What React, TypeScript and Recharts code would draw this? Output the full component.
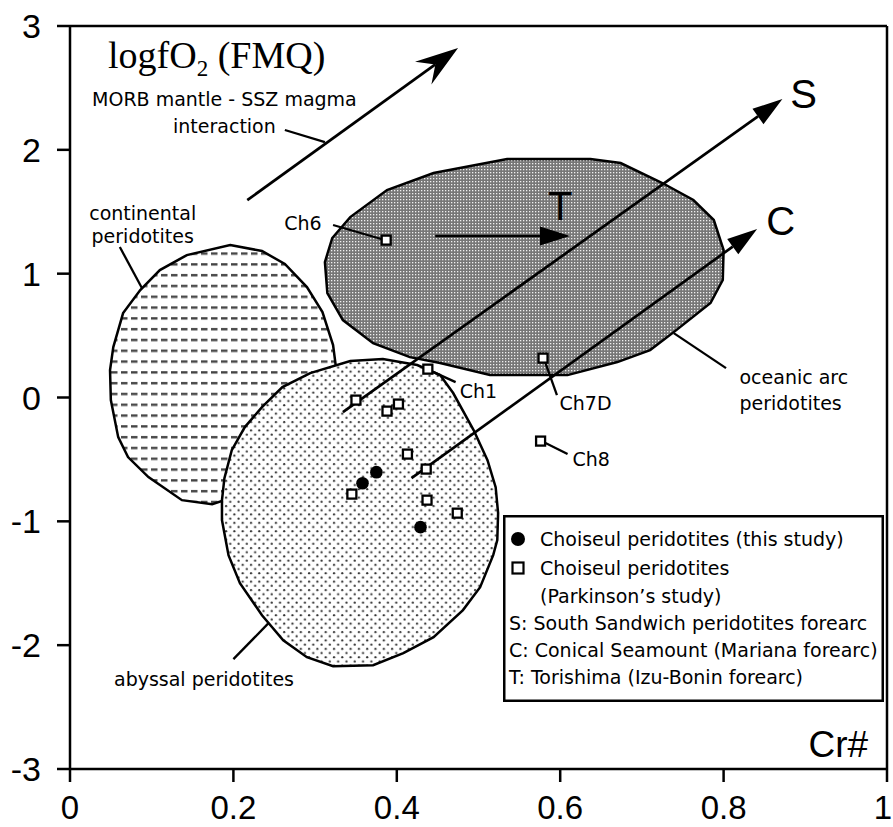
import { ComposedChart, XAxis, YAxis, Line, Scatter, ReferenceLine, ReferenceDot, Legend } from 'recharts';

const xTicks = [0, 0.2, 0.4, 0.6, 0.8, 1];
const yTicks = [-3, -2, -1, 0, 1, 2, 3];

// field outlines, traced point by point (Cr#, logfO2)
const oceanicArc = [
  { x: 0.312, y: 1.094 }, { x: 0.321, y: 1.288 }, { x: 0.343, y: 1.457 }, { x: 0.388, y: 1.675 },
  { x: 0.445, y: 1.813 }, { x: 0.535, y: 1.926 }, { x: 0.637, y: 1.926 }, { x: 0.674, y: 1.893 },
  { x: 0.725, y: 1.732 }, { x: 0.763, y: 1.595 }, { x: 0.788, y: 1.433 }, { x: 0.8, y: 1.191 },
  { x: 0.799, y: 0.949 }, { x: 0.784, y: 0.763 }, { x: 0.739, y: 0.528 }, { x: 0.71, y: 0.383 },
  { x: 0.67, y: 0.286 }, { x: 0.609, y: 0.181 }, { x: 0.514, y: 0.181 }, { x: 0.453, y: 0.278 },
  { x: 0.416, y: 0.326 }, { x: 0.371, y: 0.439 }, { x: 0.334, y: 0.625 }, { x: 0.315, y: 0.843 },
];

const continental = [
  { x: 0.196, y: 1.231 }, { x: 0.235, y: 1.183 }, { x: 0.263, y: 1.078 }, { x: 0.29, y: 0.892 },
  { x: 0.309, y: 0.69 }, { x: 0.322, y: 0.423 }, { x: 0.326, y: 0.221 }, { x: 0.318, y: -0.102 },
  { x: 0.294, y: -0.425 }, { x: 0.245, y: -0.708 }, { x: 0.174, y: -0.861 }, { x: 0.137, y: -0.829 },
  { x: 0.096, y: -0.643 }, { x: 0.071, y: -0.481 }, { x: 0.059, y: -0.32 }, { x: 0.05, y: -0.021 },
  { x: 0.049, y: 0.221 }, { x: 0.053, y: 0.407 }, { x: 0.065, y: 0.682 }, { x: 0.086, y: 0.868 },
  { x: 0.11, y: 1.029 }, { x: 0.143, y: 1.15 },
];

const abyssal = [
  { x: 0.186, y: -0.829 }, { x: 0.189, y: -0.651 }, { x: 0.198, y: -0.425 }, { x: 0.214, y: -0.239 },
  { x: 0.235, y: -0.078 }, { x: 0.26, y: 0.084 }, { x: 0.294, y: 0.197 }, { x: 0.343, y: 0.294 },
  { x: 0.383, y: 0.31 }, { x: 0.425, y: 0.262 }, { x: 0.453, y: 0.181 }, { x: 0.469, y: 0.036 },
  { x: 0.494, y: -0.263 }, { x: 0.511, y: -0.506 }, { x: 0.521, y: -0.724 }, { x: 0.524, y: -0.934 },
  { x: 0.523, y: -1.152 }, { x: 0.518, y: -1.273 }, { x: 0.502, y: -1.532 }, { x: 0.481, y: -1.717 },
  { x: 0.445, y: -1.935 }, { x: 0.408, y: -2.065 }, { x: 0.371, y: -2.162 }, { x: 0.322, y: -2.17 },
  { x: 0.29, y: -2.097 }, { x: 0.261, y: -1.96 }, { x: 0.235, y: -1.758 }, { x: 0.208, y: -1.499 },
  { x: 0.194, y: -1.273 }, { x: 0.186, y: -0.99 },
];

const thisStudy = [
  { x: 0.375, y: -0.603 }, { x: 0.358, y: -0.692 }, { x: 0.429, y: -1.047 },
];

const parkinson = [
  { x: 0.387, y: 1.271 }, { x: 0.438, y: 0.229 }, { x: 0.579, y: 0.318 }, { x: 0.576, y: -0.352 },
  { x: 0.35, y: -0.021 }, { x: 0.388, y: -0.11 }, { x: 0.402, y: -0.053 }, { x: 0.413, y: -0.457 },
  { x: 0.436, y: -0.578 }, { x: 0.345, y: -0.78 }, { x: 0.437, y: -0.829 }, { x: 0.474, y: -0.934 },
];

const morbArrow = { x1: 0.217, y1: 1.594, x2: 0.475, y2: 2.822 };

const trendArrows = [
  { name: 'S', x1: 0.334, y1: -0.118, x2: 0.872, y2: 2.41 },
  { name: 'C', x1: 0.418, y1: -0.651, x2: 0.841, y2: 1.36 },
  { name: 'T', x1: 0.447, y1: 1.304, x2: 0.612, y2: 1.304 },
];

const leaders = [
  { x1: 0.263, y1: 2.16, x2: 0.312, y2: 2.063 },
  { x1: 0.061, y1: 1.215, x2: 0.088, y2: 0.884 },
  { x1: 0.322, y1: 1.393, x2: 0.381, y2: 1.28 },
  { x1: 0.445, y1: 0.205, x2: 0.472, y2: 0.124 },
  { x1: 0.582, y1: 0.278, x2: 0.596, y2: 0.019 },
  { x1: 0.582, y1: -0.368, x2: 0.609, y2: -0.457 },
  { x1: 0.739, y1: 0.52, x2: 0.803, y2: 0.237 },
  { x1: 0.243, y1: -1.822, x2: 0.2, y2: -2.113 },
];

const labels = [
  { text: 'MORB mantle - SSZ magma', x: 0.189, y: 2.41 },
  { text: 'interaction', x: 0.189, y: 2.192 },
  { text: 'continental', x: 0.089, y: 1.49 },
  { text: 'peridotites', x: 0.089, y: 1.304 },
  { text: 'Ch6', x: 0.285, y: 1.409 },
  { text: 'Ch1', x: 0.5, y: 0.052 },
  { text: 'Ch7D', x: 0.631, y: -0.045 },
  { text: 'Ch8', x: 0.638, y: -0.498 },
  { text: 'oceanic arc', x: 0.886, y: 0.165 },
  { text: 'peridotites', x: 0.882, y: -0.045 },
  { text: 'abyssal peridotites', x: 0.164, y: -2.275 },
];

const arrowLabels = [
  { text: 'S', x: 0.898, y: 2.451 },
  { text: 'C', x: 0.87, y: 1.425 },
  { text: 'T', x: 0.6, y: 1.546 },
];

const legendRows = [
  'Choiseul peridotites (this study)',
  'Choiseul peridotites',
  '(Parkinson\u2019s study)',
  'S: South Sandwich peridotites forearc',
  'C: Conical Seamount (Mariana forearc)',
  'T: Torishima (Izu-Bonin forearc)',
];

const sans = '"DejaVu Sans", Verdana, sans-serif';
const helv = '"Liberation Sans", Arial, sans-serif';

const css = `
body { margin: 0; }
.f-ocean .recharts-line-curve { fill: url(#pOcean); }
.f-cont .recharts-line-curve { fill: url(#pCont); }
.f-abys .recharts-line-curve { fill: url(#pAbys); }
`;

const arrowShape = (len: number, half: number, notch: number) => (p: any) => {
  const { x1, y1, x2, y2 } = p;
  const d = Math.hypot(x2 - x1, y2 - y1) || 1;
  const ux = (x2 - x1) / d;
  const uy = (y2 - y1) / d;
  const bx = x2 - ux * len;
  const by = y2 - uy * len;
  const nx = x2 - ux * notch;
  const ny = y2 - uy * notch;
  const pts = [
    [x2, y2],
    [bx - uy * half, by + ux * half],
    [nx, ny],
    [bx + uy * half, by - ux * half],
  ];
  return (
    <g>
      <line x1={x1} y1={y1} x2={nx} y2={ny} stroke="#000" strokeWidth={2.7} />
      <polygon points={pts.map((q) => q.join(',')).join(' ')} fill="#000" />
    </g>
  );
};

const Square = (p: any) => (
  <rect x={p.cx - 4.5} y={p.cy - 4.5} width={9} height={9} fill="#fff" stroke="#000" strokeWidth={2.3} />
);

const Dot = (p: any) => <circle cx={p.cx} cy={p.cy} r={6.3} fill="#000" />;

// last label sits on the right edge, keep it inside the page
const XTick = (p: any) => {
  const v = p.payload.value;
  const last = v === xTicks[xTicks.length - 1];
  return (
    <text x={last ? 892 : p.x} y={p.y} dy="0.71em" textAnchor={last ? 'end' : 'middle'} fontFamily={helv} fontSize={33} fill="#000">
      {v}
    </text>
  );
};

function LegendBox() {
  const ys = [24, 53, 81, 108, 135, 162];
  return (
    <svg width={381} height={187} style={{ display: 'block' }}>
      <rect x={1.25} y={1.25} width={378.5} height={184.5} fill="#fff" stroke="#000" strokeWidth={2.5} />
      <circle cx={15} cy={ys[0]} r={7} fill="#000" />
      <rect x={9.5} y={ys[1] - 5.5} width={11} height={11} fill="#fff" stroke="#000" strokeWidth={2.2} />
      {legendRows.map((t, i) => (
        <text key={i} x={i < 3 ? 37 : 6} y={ys[i]} dominantBaseline="central" fontFamily={sans} fontSize={19} fill="#000">
          {t}
        </text>
      ))}
    </svg>
  );
}

export default function App() {
  return (
    <div style={{ position: 'relative', width: 893, height: 827, background: '#fff' }}>
      <style>{css}</style>
      <svg width={0} height={0} style={{ position: 'absolute' }}>
        <defs>
          <pattern id="pOcean" width={3} height={3} patternUnits="userSpaceOnUse">
            <rect width={3} height={3} fill="#777" />
            <rect x={1} y={1} width={1.3} height={1.3} fill="#f0f0f0" />
          </pattern>
          <pattern id="pAbys" width={8.3} height={8.4} patternUnits="userSpaceOnUse">
            <rect width={8.3} height={8.4} fill="#fff" />
            <circle cx={2} cy={2} r={1.1} fill="#333" />
            <circle cx={6.15} cy={6.2} r={1.1} fill="#333" />
          </pattern>
          <pattern id="pCont" width={10} height={10.8} patternUnits="userSpaceOnUse">
            <rect width={10} height={10.8} fill="#fff" />
            <rect x={1} y={4} width={6.5} height={2.4} fill="#444" />
          </pattern>
        </defs>
      </svg>
      <ComposedChart width={893} height={827} margin={{ top: 26, right: 6, bottom: 8, left: 0 }}>
        <XAxis
          type="number"
          dataKey="x"
          domain={[0, 1]}
          ticks={xTicks}
          allowDataOverflow
          height={50}
          tickSize={13}
          tickMargin={14}
          axisLine={{ stroke: '#000', strokeWidth: 2.5 }}
          tickLine={{ stroke: '#000', strokeWidth: 2.5 }}
          tick={XTick}
          interval={0}
        />
        <YAxis
          type="number"
          dataKey="y"
          domain={[-3, 3]}
          ticks={yTicks}
          allowDataOverflow
          width={70}
          tickSize={13}
          tickMargin={16}
          axisLine={{ stroke: '#000', strokeWidth: 2.5 }}
          tickLine={{ stroke: '#000', strokeWidth: 2.5 }}
          tick={{ fill: '#000', fontSize: 34, fontFamily: helv }}
          interval={0}
        />
        <ReferenceLine y={3} stroke="#000" strokeWidth={2.5} ifOverflow="visible" />
        <ReferenceLine x={1} stroke="#000" strokeWidth={2.5} ifOverflow="visible" />

        <Line data={continental} dataKey="y" type="linearClosed" className="f-cont" stroke="#000" strokeWidth={2.5} dot={false} activeDot={false} legendType="none" isAnimationActive={false} />
        <Line data={oceanicArc} dataKey="y" type="linearClosed" className="f-ocean" stroke="#000" strokeWidth={2.5} dot={false} activeDot={false} legendType="none" isAnimationActive={false} />
        <Line data={abyssal} dataKey="y" type="linearClosed" className="f-abys" stroke="#000" strokeWidth={2.5} dot={false} activeDot={false} legendType="none" isAnimationActive={false} />

        {leaders.map((l, i) => (
          <ReferenceLine key={'ld' + i} segment={[{ x: l.x1, y: l.y1 }, { x: l.x2, y: l.y2 }]} stroke="#000" strokeWidth={2.3} ifOverflow="visible" />
        ))}
        <ReferenceLine
          segment={[{ x: morbArrow.x1, y: morbArrow.y1 }, { x: morbArrow.x2, y: morbArrow.y2 }]}
          ifOverflow="visible"
          shape={arrowShape(43, 14, 28)}
        />
        {trendArrows.map((a) => (
          <ReferenceLine
            key={a.name}
            segment={[{ x: a.x1, y: a.y1 }, { x: a.x2, y: a.y2 }]}
            ifOverflow="visible"
            shape={arrowShape(30, 9.5, 30)}
          />
        ))}

        <Scatter data={parkinson} dataKey="y" shape={Square} legendType="none" isAnimationActive={false} />
        <Scatter data={thisStudy} dataKey="y" shape={Dot} legendType="none" isAnimationActive={false} />

        {labels.map((l, i) => (
          <ReferenceDot
            key={'lb' + i}
            x={l.x}
            y={l.y}
            r={0}
            ifOverflow="visible"
            shape={(p: any) => (
              <text x={p.cx} y={p.cy} textAnchor="middle" dominantBaseline="central" fontFamily={sans} fontSize={19} fill="#000">
                {l.text}
              </text>
            )}
          />
        ))}
        {arrowLabels.map((l) => (
          <ReferenceDot
            key={'al' + l.text}
            x={l.x}
            y={l.y}
            r={0}
            ifOverflow="visible"
            shape={(p: any) => (
              <text x={p.cx} y={p.cy} textAnchor="middle" dominantBaseline="central" fontFamily={helv} fontSize={40} fill="#000">
                {l.text}
              </text>
            )}
          />
        ))}
        <ReferenceDot
          x={0.0465}
          y={2.661}
          r={0}
          ifOverflow="visible"
          shape={(p: any) => (
            <text x={p.cx} y={p.cy} fontFamily='"Liberation Serif", "Times New Roman", serif' fontSize={38} fill="#000">
              logfO<tspan dy={8} fontSize={23}>2</tspan>
              <tspan dy={-8}> (FMQ)</tspan>
            </text>
          )}
        />
        <ReferenceDot
          x={0.977}
          y={-2.905}
          r={0}
          ifOverflow="visible"
          shape={(p: any) => (
            <text x={p.cx} y={p.cy} textAnchor="end" fontFamily={helv} fontSize={37} fill="#000">
              Cr#
            </text>
          )}
        />
        <Legend
          layout="vertical"
          align="center"
          verticalAlign="middle"
          width={381}
          height={187}
          wrapperStyle={{ left: 503, top: 515, width: 381, height: 187 }}
          content={() => <LegendBox />}
        />
      </ComposedChart>
    </div>
  );
}
